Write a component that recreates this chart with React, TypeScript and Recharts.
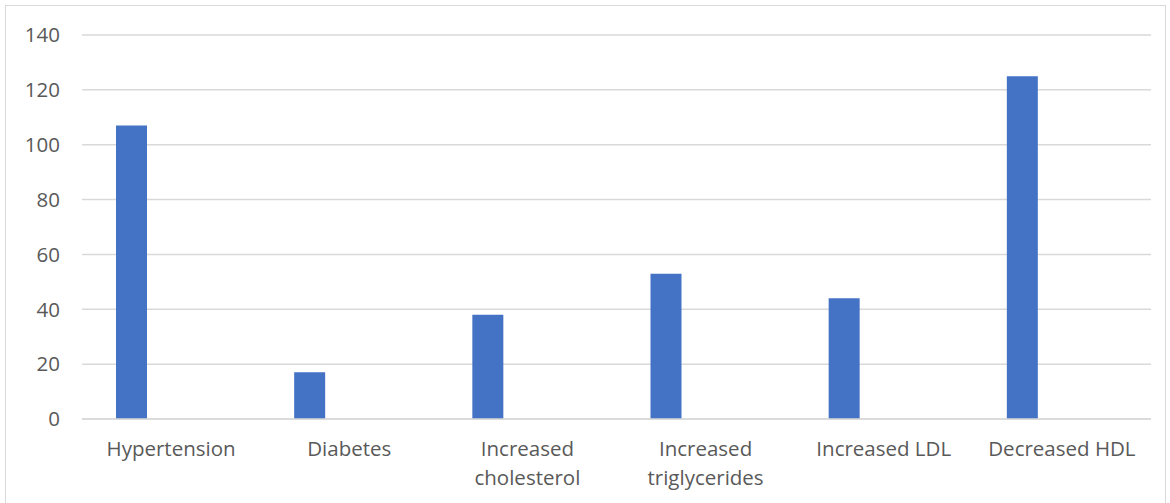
import React from 'react';
import { BarChart, Bar, XAxis, YAxis, CartesianGrid } from 'recharts';

const CATEGORIES = [
  'Hypertension',
  'Diabetes',
  'Increased cholesterol',
  'Increased triglycerides',
  'Increased LDL',
  'Decreased HDL',
];
const COUNTS = [107, 17, 38, 53, 44, 125];
// second (empty) series that keeps the bars to the left of each slot
const EMPTY: (number | null)[] = [null, null, null, null, null, null];
const Y_TICKS = [0, 20, 40, 60, 80, 100, 120, 140];

const DATA = CATEGORIES.map((name, i) => ({ name, count: COUNTS[i], empty: EMPTY[i] }));

const FONT = '"Open Sans", sans-serif';
const FONT_SIZE = 20.5;
const TEXT_COLOR = '#595959';

// labels longer than a slot wrap after the first word
function wrapLabel(label: string): string[] {
  if (label.length <= 14) return [label];
  const i = label.indexOf(' ');
  return i < 0 ? [label] : [label.slice(0, i), label.slice(i + 1)];
}

function CategoryTick(props: any) {
  const { x, y, payload } = props;
  const lines = wrapLabel(String(payload.value));
  return (
    <text
      x={x}
      y={y}
      textAnchor="middle"
      fontSize={FONT_SIZE}
      fontFamily={FONT}
      fill={TEXT_COLOR}
    >
      {lines.map((line, i) => (
        <tspan key={i} x={x} dy={i === 0 ? '0.71em' : 29}>
          {line}
        </tspan>
      ))}
    </text>
  );
}

export default function App() {
  return (
    <div style={{ position: 'absolute', left: 0, top: 0, width: 1170, height: 503, background: '#fff', overflow: 'hidden' }}>
      <div
        style={{
          position: 'absolute',
          left: 5,
          top: 5,
          width: 1159,
          height: 520,
          border: '1px solid #d9d9d9',
        }}
      />
      <div style={{ position: 'absolute', left: 0, top: 0 }}>
        <BarChart
          width={1170}
          height={503}
          data={DATA}
          margin={{ top: 35, right: 19, left: 0, bottom: 0 }}
          barSize={31}
          barGap={48}
        >
          <CartesianGrid vertical={false} stroke="#d9d9d9" strokeWidth={1.5} />
          <XAxis
            dataKey="name"
            height={84}
            axisLine={{ stroke: '#d9d9d9', strokeWidth: 1.5 }}
            tickLine={false}
            tickSize={0}
            tickMargin={22}
            interval={0}
            tick={<CategoryTick />}
          />
          <YAxis
            width={82}
            domain={[0, 140]}
            ticks={Y_TICKS}
            axisLine={false}
            tickLine={false}
            tickSize={0}
            tickMargin={22}
            tick={{ fontSize: FONT_SIZE, fontFamily: FONT, fill: TEXT_COLOR }}
          />
          <Bar dataKey="count" fill="#4472C4" isAnimationActive={false} />
          <Bar dataKey="empty" fill="#ED7D31" isAnimationActive={false} />
        </BarChart>
      </div>
    </div>
  );
}
